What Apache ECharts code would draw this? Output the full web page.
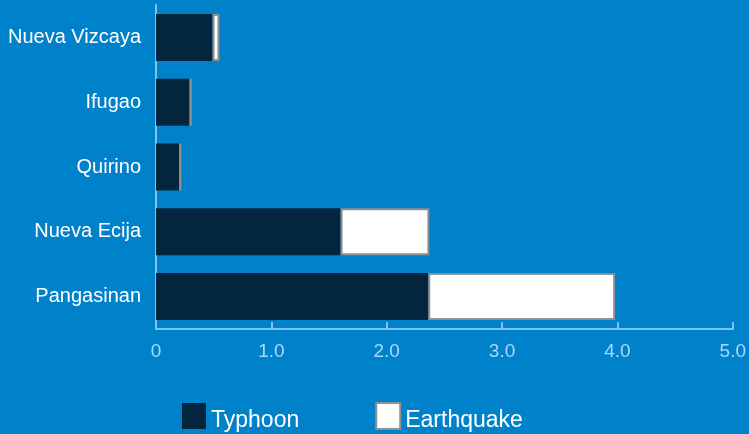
<!DOCTYPE html>
<html><head><meta charset="utf-8">
<script src="https://cdn.jsdelivr.net/npm/echarts@6/dist/echarts.min.js"></script>
<style>html,body{margin:0;padding:0;background:#0082CA;}#c{width:749px;height:434px;}</style>
</head><body><div id="c"></div>
<script>
const categories = ['Pangasinan', 'Nueva Ecija', 'Quirino', 'Ifugao', 'Nueva Vizcaya'];
const typhoon = [2.36, 1.60, 0.20, 0.29, 0.49];
const earthquake = [1.62, 0.77, 0.02, 0.02, 0.06];
const xTicks = [0, 1, 2, 3, 4, 5];

const chart = echarts.init(document.getElementById('c'));
chart.setOption({
  backgroundColor: '#0082CA',
  animation: false,
  textStyle: { fontFamily: 'Liberation Sans, Arial, sans-serif' },
  grid: { left: 156, right: 13, top: 5, bottom: 105, containLabel: false },
  legend: {
    top: 397, left: 177, itemWidth: 24, itemHeight: 26, itemGap: 76,
    icon: 'rect',
    formatter: '{a|{name}}',
    textStyle: { color: '#ffffff', fontSize: 23,
      rich: { a: { color: '#ffffff', fontSize: 23, padding: [9, 0, 0, 0] } } },
    data: ['Typhoon', 'Earthquake']
  },
  xAxis: {
    type: 'value', min: xTicks[0], max: xTicks[xTicks.length - 1], interval: 1,
    splitLine: { show: false },
    axisLine: { show: true, lineStyle: { color: '#7DC4EE', width: 2 } },
    axisTick: { show: true, inside: true, length: 7, lineStyle: { color: '#7DC4EE', width: 2 } },
    axisLabel: { color: '#A9D8F5', fontSize: 19, margin: 13,
      formatter: v => v === 0 ? '0' : v.toFixed(1) }
  },
  yAxis: {
    type: 'category', data: categories,
    axisLine: { show: true, lineStyle: { color: '#7DC4EE', width: 2 } },
    axisTick: { show: false },
    axisLabel: { color: '#ffffff', fontSize: 20, margin: 15 }
  },
  series: [
    { name: 'Typhoon', type: 'bar', stack: 's', data: typhoon, barWidth: 47,
      itemStyle: { color: '#03253E' } },
    { name: 'Earthquake', type: 'bar', stack: 's', data: earthquake, barWidth: 47,
      itemStyle: { color: '#ffffff', borderColor: '#909090', borderWidth: 2 } }
  ]
});
</script></body></html>
